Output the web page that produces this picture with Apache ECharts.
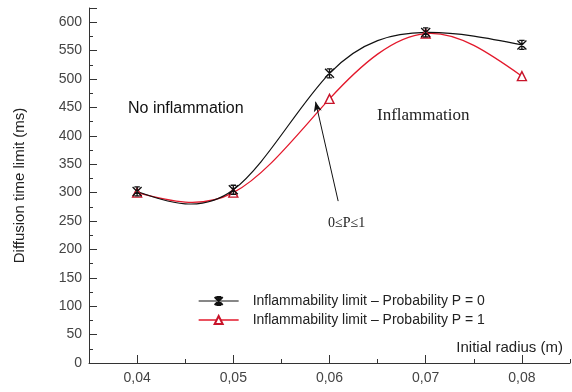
<!DOCTYPE html>
<html>
<head>
<meta charset="utf-8">
<script src="https://cdn.jsdelivr.net/npm/echarts@6/dist/echarts.min.js"></script>
<style>
  html, body { margin: 0; padding: 0; background: #fff; }
  #container { width: 572px; height: 392px; }
</style>
</head>
<body>
<div id="container"></div>
<script>
// initial radius (m)
const radius = [0.04, 0.05, 0.06, 0.07, 0.08];
// diffusion time limit (ms)
const limitP0 = [302, 305, 510, 582, 560];
const limitP1 = [300, 300, 465, 580, 505];
const xTicks = [0.04, 0.05, 0.06, 0.07, 0.08];
// arrow pointing at the band between the two curves
const arrowFrom = [0.0609, 285];
const arrowTo = [0.05855, 460];

const nameP0 = 'Inflammability limit \u2013 Probability P = 0';
const nameP1 = 'Inflammability limit \u2013 Probability P = 1';
const colorP0 = '#111';
const colorP1 = '#e3182b';

const dom = document.getElementById('container');
const myChart = echarts.init(dom);

const crossStar = 'path://M0,0 L10,10 M10,0 L0,10 M5,0 L5,10 M2,0 L8,0 M2,10 L8,10';

const toPairs = (ys) => radius.map((x, i) => [x, ys[i]]);
const fmtComma = (v) => v.toFixed(2).replace('.', ',');

// slopes of a natural cubic spline through (xs, ys)
function splineSlopes(xs, ys) {
	const n = xs.length;
	const h = [];
	for (let i = 0; i < n - 1; i++) h.push(xs[i + 1] - xs[i]);
	const a = new Array(n).fill(0), b = new Array(n).fill(1), c = new Array(n).fill(0), d = new Array(n).fill(0);
	for (let i = 1; i < n - 1; i++) {
		a[i] = h[i - 1];
		b[i] = 2 * (h[i - 1] + h[i]);
		c[i] = h[i];
		d[i] = 6 * ((ys[i + 1] - ys[i]) / h[i] - (ys[i] - ys[i - 1]) / h[i - 1]);
	}
	// Thomas algorithm
	for (let i = 1; i < n; i++) {
		const w = a[i] / b[i - 1];
		b[i] -= w * c[i - 1];
		d[i] -= w * d[i - 1];
	}
	const M = new Array(n).fill(0);
	M[n - 1] = d[n - 1] / b[n - 1];
	for (let i = n - 2; i >= 0; i--) M[i] = (d[i] - c[i] * M[i + 1]) / b[i];
	const m = [];
	for (let i = 0; i < n - 1; i++) {
		m.push((ys[i + 1] - ys[i]) / h[i] - h[i] * (2 * M[i] + M[i + 1]) / 6);
	}
	m.push((ys[n - 1] - ys[n - 2]) / h[n - 2] + h[n - 2] * (M[n - 2] + 2 * M[n - 1]) / 6);
	return m;
}

function splineSeries(id, ys, color, width) {
	const slopes = splineSlopes(radius, ys);
	return {
		id: id,
		type: 'custom',
		coordinateSystem: 'cartesian2d',
		silent: true,
		z: 1,
		data: toPairs(ys),
		encode: { x: 0, y: 1 },
		renderItem: (params, api) => {
			const i = params.dataIndex;
			if (i >= radius.length - 1) return null;
			const h = radius[i + 1] - radius[i];
			const p0 = api.coord([radius[i], ys[i]]);
			const p1 = api.coord([radius[i] + h / 3, ys[i] + slopes[i] * h / 3]);
			const p2 = api.coord([radius[i + 1] - h / 3, ys[i + 1] - slopes[i + 1] * h / 3]);
			const p3 = api.coord([radius[i + 1], ys[i + 1]]);
			return {
				type: 'bezierCurve',
				shape: { x1: p0[0], y1: p0[1], cpx1: p1[0], cpy1: p1[1], cpx2: p2[0], cpy2: p2[1], x2: p3[0], y2: p3[1] },
				style: { stroke: color, lineWidth: width, fill: null },
			};
		},
	};
}

const option = {
	animation: false,
	grid: { left: 89, right: 2, top: 8, bottom: 29 },
	xAxis: [
		{
			type: 'value',
			min: 0.035,
			max: 0.085,
			interval: 0.005,
			name: 'Initial radius (m)',
			nameLocation: 'end',
			nameGap: -7,
			nameTextStyle: { align: 'right', verticalAlign: 'bottom', padding: [0, 0, 8, 0], fontSize: 15, color: '#222', fontFamily: 'Liberation Sans' },
			axisLine: { lineStyle: { color: '#333', width: 1 } },
			axisTick: { inside: true, length: 4, lineStyle: { color: '#333' } },
			axisLabel: { customValues: xTicks, formatter: fmtComma, fontSize: 14, color: '#444', margin: 8, fontFamily: 'Liberation Sans' },
			splitLine: { show: false },
		},
		{
			type: 'value',
			position: 'bottom',
			min: 0.035,
			max: 0.085,
			axisLine: { show: false },
			axisTick: { inside: true, length: 8, customValues: xTicks, lineStyle: { color: '#333' } },
			axisLabel: { show: false },
			splitLine: { show: false },
		},
	],
	yAxis: {
		type: 'value',
		min: 0,
		max: 625,
		interval: 50,
		name: 'Diffusion time limit (ms)',
		nameLocation: 'middle',
		nameGap: 62,
		nameTextStyle: { fontSize: 15, color: '#222', fontFamily: 'Liberation Sans' },
		axisLine: { show: true, lineStyle: { color: '#333', width: 1 } },
		axisTick: { show: true, inside: true, length: 8, lineStyle: { color: '#333' } },
		minorTick: { show: true, splitNumber: 2, length: 4, lineStyle: { color: '#333' } },
		axisLabel: {
			formatter: (v) => (v > 600 ? '' : String(v)),
			fontSize: 14,
			color: '#444',
			margin: 7,
			fontFamily: 'Liberation Sans',
		},
		splitLine: { show: false },
	},
	legend: {
		orient: 'vertical',
		left: 198,
		top: 294,
		padding: 0,
		itemWidth: 40,
		itemHeight: 10,
		itemGap: 5,
		textStyle: { fontSize: 14, color: '#222', padding: [0, 0, 0, 9], fontFamily: 'Liberation Sans' },
		data: [
			{ name: nameP0, lineStyle: { opacity: 1, color: colorP0, width: 1.2 } },
			{ name: nameP1, lineStyle: { opacity: 1, color: colorP1, width: 1.3 } },
		],
	},
	graphic: [
		{ type: 'text', left: 128, top: 101, style: { text: 'No inflammation', font: '16px "Liberation Sans"', fill: '#111' } },
		{ type: 'text', left: 377, top: 107, style: { text: 'Inflammation', font: '17px "Liberation Serif"', fill: '#222' } },
		{ type: 'text', left: 328, top: 216, style: { text: '0\u2264P\u22641', font: '14px "Liberation Serif"', fill: '#222' } },
	],
	series: [
		splineSeries('curveP1', limitP1, colorP1, 1.3),
		splineSeries('curveP0', limitP0, colorP0, 1.2),
		{
			name: nameP1,
			type: 'line',
			data: toPairs(limitP1),
			symbol: 'triangle',
			symbolSize: 9,
			lineStyle: { color: colorP1, width: 1.3, opacity: 0 },
			itemStyle: { color: '#fff', borderColor: '#c8142a', borderWidth: 1.4 },
			z: 2,
		},
		{
			name: nameP0,
			type: 'line',
			data: toPairs(limitP0),
			symbol: crossStar,
			symbolSize: 9,
			lineStyle: { color: colorP0, width: 1.2, opacity: 0 },
			itemStyle: { color: colorP0, borderColor: colorP0, borderWidth: 1.3 },
			z: 3,
			markLine: {
				silent: true,
				symbol: ['none', 'arrow'],
				symbolSize: [6, 10],
				label: { show: false },
				lineStyle: { color: '#111', width: 1, type: 'solid', opacity: 1 },
				data: [[{ coord: arrowFrom }, { coord: arrowTo }]],
			},
		},
	],
};

if (option && typeof option === 'object') {
	myChart.setOption(option);
}
</script>
</body>
</html>
